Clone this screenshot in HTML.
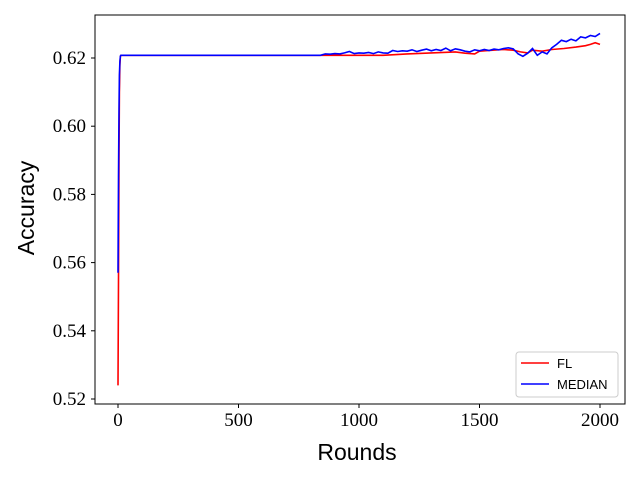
<!DOCTYPE html>
<html><head><meta charset="utf-8"><style>body{margin:0;background:#fff}svg{display:block}</style></head>
<body>
<svg id="chart" width="640" height="480" xmlns="http://www.w3.org/2000/svg">
<rect x="95" y="15" width="530" height="389" fill="#fff" stroke="#000" stroke-width="1"/>
<g id="ticks"></g>
<g id="series"></g>
<text x="357" y="460" font-family="Liberation Sans, sans-serif" font-size="23" text-anchor="middle">Rounds</text>
<text transform="translate(34,208) rotate(-90)" font-family="Liberation Sans, sans-serif" font-size="23" text-anchor="middle">Accuracy</text>
<g>
<rect x="516" y="352" width="102" height="45" rx="3" fill="#fff" stroke="#ccc"/>
<line x1="521" y1="363" x2="549" y2="363" stroke="#f00" stroke-width="1.5"/>
<text x="557" y="368" font-family="Liberation Sans, sans-serif" font-size="13">FL</text>
<line x1="521" y1="384" x2="549" y2="384" stroke="#00f" stroke-width="1.5"/>
<text x="557" y="389" font-family="Liberation Sans, sans-serif" font-size="13">MEDIAN</text>
</g>
</svg>
<script>
const xTicks=[0,500,1000,1500,2000];
const yTicks=[0.52,0.54,0.56,0.58,0.60,0.62];
const flRounds=[0,2,4,6,8,10,12,1100,1200,1300,1400,1440,1480,1500,1540,1600,1640,1670,1700,1720,1760,1800,1850,1900,1940,1960,1980,2000];
const flValues=[0.524,0.555,0.590,0.610,0.618,0.6205,0.6208,0.6208,0.6212,0.6215,0.6218,0.6214,0.6212,0.6220,0.6222,0.6225,0.6223,0.6218,0.6215,0.6223,0.6220,0.6225,0.6228,0.6232,0.6236,0.6240,0.6245,0.6240];
const medRounds=[0,2,4,6,8,10,12,840,860,880,900,920,940,960,980,1000,1020,1040,1060,1080,1100,1120,1140,1160,1180,1200,1220,1240,1260,1280,1300,1320,1340,1360,1380,1400,1420,1440,1460,1480,1500,1520,1540,1560,1580,1600,1620,1640,1660,1680,1700,1720,1740,1760,1780,1800,1820,1840,1860,1880,1900,1920,1940,1960,1980,2000];
const medValues=[0.557,0.585,0.605,0.615,0.619,0.6206,0.6208,0.6208,0.6212,0.6211,0.6213,0.6212,0.6215,0.6219,0.6213,0.6215,0.6214,0.6216,0.6213,0.6218,0.6215,0.6214,0.6222,0.6219,0.6221,0.6220,0.6224,0.6219,0.6223,0.6226,0.6221,0.6225,0.6222,0.6229,0.6221,0.6227,0.6224,0.6220,0.6218,0.6224,0.6221,0.6225,0.6222,0.6226,0.6224,0.6228,0.6230,0.6227,0.6212,0.6205,0.6214,0.6228,0.6208,0.6218,0.6212,0.6230,0.6240,0.6252,0.6248,0.6255,0.6250,0.6262,0.6259,0.6266,0.6263,0.6272];
const NS='http://www.w3.org/2000/svg';
function xs(v){return 118+(v/2000)*482;}
function ys(v){return 58+(0.62-v)/0.02*68.2;}
const tg=document.getElementById('ticks');
xTicks.forEach(t=>{
 const l=document.createElementNS(NS,'line');
 l.setAttribute('x1',xs(t));l.setAttribute('x2',xs(t));l.setAttribute('y1',404);l.setAttribute('y2',408);l.setAttribute('stroke','#000');
 
 
 tg.appendChild(l);
 const tx=document.createElementNS(NS,'text');
 tx.setAttribute('x',xs(t));tx.setAttribute('y',426);tx.setAttribute('text-anchor','middle');
 tx.setAttribute('font-family','Liberation Serif, serif');tx.setAttribute('font-size','19');
 tx.textContent=t;
 
 
 tg.appendChild(tx);
});
yTicks.forEach(t=>{
 const l=document.createElementNS(NS,'line');
 l.setAttribute('x1',91);l.setAttribute('x2',95);l.setAttribute('y1',ys(t));l.setAttribute('y2',ys(t));l.setAttribute('stroke','#000');
 
 
 tg.appendChild(l);
 const tx=document.createElementNS(NS,'text');
 tx.setAttribute('x',86);tx.setAttribute('y',ys(t)+6);tx.setAttribute('text-anchor','end');
 tx.setAttribute('font-family','Liberation Serif, serif');tx.setAttribute('font-size','19');
 tx.textContent=t.toFixed(2);
 
 
 tg.appendChild(tx);
});
const sg=document.getElementById('series');
function line(rs,vs,color,name){
 const p=document.createElementNS(NS,'polyline');
 p.setAttribute('points',rs.map((r,i)=>xs(r).toFixed(1)+','+ys(vs[i]).toFixed(1)).join(' '));
 p.setAttribute('fill','none');p.setAttribute('stroke',color);p.setAttribute('stroke-width','1.6');
 
 
 sg.appendChild(p);
}
line(flRounds,flValues,'#f00','fl-line');
line(medRounds,medValues,'#00f','median-line');
</script>
</body></html>
